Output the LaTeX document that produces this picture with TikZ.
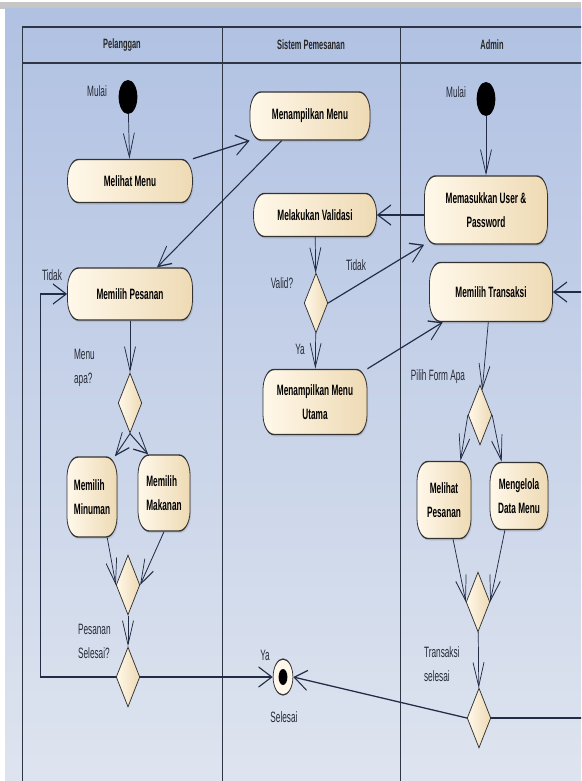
\documentclass[tikz,border=0pt]{standalone}
\usepackage{fontspec}
\setmainfont{Liberation Sans}
\usetikzlibrary{arrows.meta,shapes.geometric,calc,shadows}

\definecolor{bgtop}{HTML}{B0C1E2}
\definecolor{bgbot}{HTML}{DEE4EF}
\definecolor{edgec}{HTML}{222C46}
\definecolor{lanec}{HTML}{2E3545}
\definecolor{nodeA}{HTML}{FFF8EA}
\definecolor{nodeB}{HTML}{EEDAB4}
\definecolor{borderc}{HTML}{333333}
\definecolor{labelc}{HTML}{252A36}

\tikzset{
  act/.style={draw=borderc, line width=1.4pt, rounded corners=20pt,
    left color=nodeA, right color=nodeB, text=black,
    font=\bfseries\fontsize{15}{24}\selectfont, align=center, inner sep=2pt,
    drop shadow={opacity=0.25, shadow xshift=2pt, shadow yshift=-2pt}},
  sz/.style 2 args={minimum width={#1*1.81818pt}, minimum height={#2*1pt}},
  dec/.style={diamond, draw=borderc, line width=1.2pt, left color=nodeA,
    right color=nodeB, inner sep=0pt, minimum width=43pt, minimum height=60pt},
  startn/.style={circle, fill=black, minimum size=34pt, inner sep=0pt},
  endo/.style={circle, draw=borderc, fill=nodeA, line width=1.3pt,
    minimum size=36pt, inner sep=0pt},
  endi/.style={circle, fill=black, minimum size=16pt, inner sep=0pt},
  lbl/.style={text=labelc, font=\fontsize{15}{24}\selectfont, inner sep=0pt, align=left},
  hdr/.style={text=black!85, font=\bfseries\fontsize{13.5}{18}\selectfont, inner sep=0pt},
  flow/.style={draw=edgec, line width=1.3pt,
    -{Straight Barb[length=24pt,width=20pt,line width=1.3pt]}},
}

\begin{document}
\begin{tikzpicture}[x=1pt,y=-1pt]
\useasboundingbox (0,0) rectangle (581,781);
\clip (0,0) rectangle (581,781);
\fill[white] (0,0) rectangle (581,781);
\fill[gray!45] (0,2) rectangle (581,9);
\shade[top color=bgtop, bottom color=bgbot] (5,9) rectangle (581,781);
% swimlane table
\draw[lanec, line width=2.2pt] (22,27) -- (600,27);
\draw[lanec, line width=2.2pt] (22,63) -- (600,63);
\draw[lanec, line width=1pt] (22,26) -- (22,800);
\draw[lanec, line width=1pt] (222,26) -- (222,800);
\draw[lanec, line width=1pt] (400,26) -- (400,800);

\begin{scope}[transform canvas={xscale=0.55}, x=1.81818pt]
  % headers
  \node[hdr] (h1) at (122,45) {Pelanggan};
  \node[hdr] (h2) at (311,45) {Sistem Pemesanan};
  \node[hdr] (h3) at (492,45) {Admin};

  % Pelanggan lane
  \node[startn] (s1) at (128,97) {};
  \node[lbl] (mulai1) at (97,91) {Mulai};
  \node[act, sz={125}{43}] (melihat) at (130,181) {Melihat Menu};
  \node[act, sz={125}{52}] (pesan) at (130,294) {Memilih Pesanan};
  \node[lbl] (tidak1) at (52,275) {Tidak};
  \node[dec] (d1) at (130,403) {};
  \node[lbl, anchor=west] (lmenu) at (74,368) {Menu\\apa?};
  \node[act, sz={50}{80}, align=left] (minum) at (92,497) {Memilih\\Minuman};
  \node[act, sz={52}{76}, align=left] (makan) at (164,493) {Memilih\\Makanan};
  \node[dec] (m1d) at (128,585) {};
  \node[dec] (d2) at (128,677) {};
  \node[lbl, anchor=west] (lps) at (78,641) {Pesanan\\Selesai?};

  % Sistem lane
  \node[act, sz={120}{48}] (tampil) at (310,116) {Menampilkan Menu};
  \node[act, sz={123}{43}] (validasi) at (315,215) {Melakukan Validasi};
  \node[dec] (dv) at (316,303) {};
  \node[lbl] (lvalid) at (282,283) {Valid?};
  \node[lbl] (tidak2) at (356,265) {Tidak};
  \node[lbl] (ya2) at (300,349) {Ya};
  \node[act, sz={104}{65}] (utama) at (315,402) {Menampilkan Menu\\Utama};
  \node[endo] (fin) at (283,677) {};
  \node[endi] (fini) at (283,677) {};
  \node[lbl] (ya1) at (265,655) {Ya};
  \node[lbl] (lsel) at (284,717) {Selesai};

  % Admin lane
  \node[startn] (s2) at (486,99) {};
  \node[lbl] (mulai2) at (456,92) {Mulai};
  \node[act, sz={123}{68}] (login) at (486,210) {Memasukkan User \&\\Password};
  \node[act, sz={123}{59}] (transaksi) at (491,292) {Memilih Transaksi};
  \node[dec] (dp) at (480,415) {};
  \node[lbl] (lpilih) at (438,377) {Pilih Form Apa};
  \node[act, sz={54}{77}] (lihat) at (444,500) {Melihat\\Pesanan};
  \node[act, sz={58}{67}] (kelola) at (519,496) {Mengelola\\Data Menu};
  \node[dec] (m2d) at (478,602) {};
  \node[dec] (d3) at (479,718) {};
  \node[lbl, anchor=west] (lts) at (424,664) {Transaksi\\selesai};

  \coordinate (loopA) at (40,677);
  \coordinate (loopB) at (640,718);

  % connectors
  \draw[flow] (s1) -- (melihat);
  \draw[flow] (melihat.north east) -- (tampil.south west);
  \draw[flow] ($(tampil.south)!0.47!(tampil.south west)$) -- ($(pesan.north)!0.43!(pesan.north east)$);
  \draw[flow] (s2) -- (login);
  \draw[flow] (login.west |- validasi.east) -- (validasi.east);
  \draw[flow] (validasi) -- (dv);
  \draw[flow] (dv) -- (utama);
  \draw[flow] (dv.east) -- (login.south west);
  \draw[flow] (utama.north east) -- ($(transaksi.south west)!0.11!(transaksi.south east)$);
  \draw[flow] (transaksi) -- (dp);
  \draw[flow] (pesan) -- (d1);
  \draw[flow] (d1.south) -- ($(minum.north)!0.9!(minum.north east)$);
  \draw[flow] (d1.south) -- ($(makan.north)!0.6!(makan.north west)$);
  \draw[flow] ($(minum.south)!0.6!(minum.south east)$) -- (m1d.west);
  \draw[flow] (makan.south) -- (m1d.east);
  \draw[flow] (m1d) -- (d2);
  \draw[flow] (d2.east) -- (fin.west);
  \draw[flow] (d2.west) -- (loopA) |- (pesan.west);
  \draw[flow] (dp.west) -- ($(lihat.north)!0.6!(lihat.north east)$);
  \draw[flow] (dp.east) -- ($(kelola.north)!0.59!(kelola.north west)$);
  \draw[flow] ($(lihat.south)!0.33!(lihat.south east)$) -- (m2d.west);
  \draw[flow] ($(kelola.south)!0.48!(kelola.south west)$) -- (m2d.east);
  \draw[flow] (m2d) -- (d3);
  \draw[flow] (d3.west) -- (fin.east);
  \draw[flow] (d3.east) -- (loopB) |- (transaksi.east);
\end{scope}
\end{tikzpicture}
\end{document}
